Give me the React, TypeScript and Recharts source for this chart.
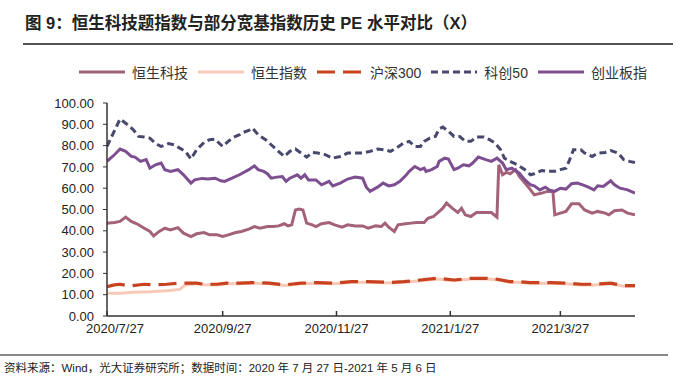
import React from "react";
import { LineChart, Line, XAxis, YAxis } from "recharts";

// ---- data ----
const startDate = "2020/7/27";
const endDate = "2021/5/6";
const tickDates = ["2020/7/27", "2020/9/27", "2020/11/27", "2021/1/27", "2021/3/27"];
const yTicks = [0, 10, 20, 30, 40, 50, 60, 70, 80, 90, 100];
const seriesNames = ["恒生科技", "恒生指数", "沪深300", "科创50", "创业板指"];

// [days after 2020/7/27, PE]
const hstech: [number, number][] = [
  [0, 43.6], [4, 43.9], [7, 44.4], [10, 46.4], [13, 44.4], [16, 43.3], [20, 41.2], [23, 39.7], [25, 37.6],
  [28, 39.7], [31, 41.2], [34, 40.4], [38, 41.5], [41, 38.9], [45, 37.3], [48, 38.6], [52, 39.2], [55, 38.1],
  [59, 38.1], [62, 37.3], [65, 38.1], [69, 39.2], [72, 39.7], [76, 40.8], [79, 42], [82, 41.2], [86, 42],
  [89, 42], [92, 42.3], [95, 43.3], [97, 42.3], [99, 42.8], [101, 49.8], [103, 50.2], [105, 49.8], [107, 43.6],
  [110, 42.8], [112, 42], [115, 43.3], [119, 43.9], [122, 42.8], [126, 41.7], [129, 42.8], [133, 42.3],
  [137, 42.3], [140, 41.2], [144, 42.3], [147, 42], [149, 43.6], [151, 41.7], [154, 39.7], [156, 42.8],
  [160, 43.3], [163, 43.6], [166, 43.9], [170, 43.9], [172, 45.9], [175, 46.7], [179, 49.8], [180, 50.6],
  [182, 53], [185, 50.6], [188, 48.6], [190, 50.6], [192, 47.5], [195, 46.7], [198, 48.6], [202, 48.6],
  [206, 48.6], [209, 46.4], [210, 71], [212, 66.3], [214, 67.4], [216, 66.8], [219, 68.7], [221, 65.5],
  [224, 62.4], [227, 59.2], [229, 56.9], [233, 57.7], [236, 58.5], [239, 58.5], [240, 47.5], [243, 48.3],
  [246, 49.1], [249, 52.7], [253, 52.7], [256, 49.8], [260, 48.3], [263, 49.1], [267, 48.3], [269, 47.5],
  [272, 49.4], [276, 49.8], [279, 48.3], [283, 47.5],
];

const hsi: [number, number][] = [
  [0, 10.7], [7, 10.7], [14, 11.1], [23, 11.4], [32, 11.9], [39, 12.5], [42, 14.6], [48, 15.1], [52, 14.7],
  [59, 14.6], [64, 15.1], [71, 15.1], [78, 15.4], [87, 15.1], [95, 14.3], [104, 15.1], [113, 15.4],
  [122, 15.1], [131, 15.8], [140, 15.8], [152, 15.5], [159, 15.8], [168, 16.6], [177, 17.4], [186, 16.6],
  [195, 17.4], [203, 17.4], [208, 17.1], [216, 15.8], [220, 15.8], [227, 15.4], [238, 15.4], [246, 15.1],
  [254, 14.6], [261, 14.6], [270, 15.1], [277, 14], [283, 14],
];

const hs300: [number, number][] = [
  [0, 13.8], [4, 14.6], [7, 14.9], [12, 14.1], [20, 14.9], [25, 14.6], [32, 14.9], [39, 15.4], [48, 15.4],
  [52, 14.9], [59, 14.9], [64, 15.4], [71, 15.4], [78, 15.7], [87, 15.4], [95, 14.6], [104, 15.4],
  [113, 15.7], [122, 15.4], [131, 16.1], [140, 16.1], [152, 15.8], [159, 16.1], [168, 16.9], [177, 17.7],
  [186, 16.9], [195, 17.7], [203, 17.7], [208, 17.4], [216, 16.1], [220, 16.1], [227, 15.7], [238, 15.7],
  [246, 15.4], [254, 14.9], [261, 14.9], [270, 15.4], [277, 14.3], [283, 14.3],
];

const star50: [number, number][] = [
  [0, 79.6], [7, 92.5], [11, 89.8], [14, 87.5], [17, 84.3], [20, 84], [23, 83.5], [26, 81], [29, 79.6],
  [33, 81], [36, 80.4], [39, 78.8], [42, 77.3], [45, 73.7], [48, 78], [52, 81.5], [55, 82.8], [58, 83],
  [60, 81.2], [62, 79.6], [65, 82], [68, 84], [71, 85.1], [72, 85.9], [76, 87.1], [78, 88.2], [81, 85.1],
  [85, 82.8], [88, 80.4], [91, 78], [95, 74.9], [98, 77.3], [101, 78.4], [104, 76.5], [107, 74.6],
  [110, 76.8], [113, 76.5], [117, 75.7], [121, 74.1], [125, 74.9], [129, 76.5], [134, 76.5], [137, 76.5],
  [141, 77.3], [145, 78.4], [149, 78], [152, 77.3], [155, 78.8], [159, 81.2], [162, 82], [165, 79.6],
  [168, 79.6], [170, 82], [173, 83.5], [176, 84.3], [178, 87.8], [180, 88.7], [183, 86.7], [186, 84.3],
  [189, 84.3], [192, 82], [195, 82], [198, 84], [202, 84], [205, 82.8], [208, 81.2], [211, 78], [213, 74.1],
  [216, 72.6], [220, 71], [224, 68.7], [227, 66.3], [229, 66.8], [233, 68.3], [236, 67.9], [240, 67.9],
  [243, 68.7], [246, 69.4], [248, 73.4], [250, 78], [254, 78], [256, 76.5], [260, 74.9], [263, 76.5],
  [267, 76.8], [270, 77.7], [274, 76.5], [277, 73.4], [280, 72.6], [283, 72.1],
];

const chinext: [number, number][] = [
  [0, 72.6], [4, 75.7], [7, 78.4], [10, 77.3], [13, 74.9], [15, 74.6], [18, 72.6], [21, 73.4], [23, 69.4],
  [26, 71], [29, 71.8], [31, 68.7], [34, 67.9], [38, 68.7], [41, 66.3], [45, 62.4], [47, 63.9], [51, 64.6],
  [54, 64.3], [58, 64.7], [61, 63.5], [63, 63.2], [67, 64.7], [71, 66.3], [72, 66.8], [76, 68.7],
  [79, 70.5], [81, 68.7], [84, 67.9], [86, 66.8], [88, 64.7], [91, 65.2], [94, 65.5], [96, 63.2],
  [98, 64.7], [102, 66.3], [104, 64.7], [106, 66.3], [108, 63.9], [112, 63.9], [115, 61.6], [119, 63.2],
  [121, 61.1], [125, 62.4], [129, 64.3], [133, 65.2], [137, 64.7], [139, 60.5], [141, 58.5], [145, 60.5],
  [148, 62.4], [151, 61.1], [154, 61.6], [157, 63.2], [160, 65.8], [162, 67.9], [165, 70.2], [168, 68.7],
  [170, 69.4], [171, 67.9], [174, 68.7], [177, 70.2], [178, 72.6], [181, 74.1], [183, 73.7], [186, 68.7],
  [188, 69.4], [191, 71], [194, 70.5], [196, 71.8], [199, 74.6], [203, 73.4], [206, 72.6], [209, 74.1],
  [212, 71.8], [214, 68.7], [217, 69.4], [221, 67.1], [224, 63.9], [227, 61.6], [229, 61.1], [232, 59.2],
  [235, 60.5], [237, 59.2], [240, 58.5], [243, 60], [246, 59.6], [249, 62.1], [252, 62.4], [255, 61.6],
  [258, 60.5], [261, 59.2], [263, 61.1], [266, 60.8], [270, 63.5], [272, 61.6], [275, 60], [279, 59.2],
  [283, 57.7],
];

// ---- helpers / styles ----
const dayOf = (s: string) =>
  Math.round((new Date(s).getTime() - new Date(startDate).getTime()) / 86400000);
const toRows = (arr: [number, number][]) => arr.map(([d, v]) => ({ d, v }));

const colors = ["#a4617a", "#f8c9b6", "#c8421f", "#48486f", "#7d4e90"];
const dashes = [undefined, undefined, "18 8", "7 4", undefined];
const seriesData = [hstech, hsi, hs300, star50, chinext];

const numFont = "'Liberation Sans', Arial, 'Noto Sans CJK SC', sans-serif";
const cjkFont = "'Liberation Sans', Arial, 'Noto Sans CJK SC', sans-serif";

const tickOffsets = tickDates.map(dayOf);

const XTick = (props: any) => {
  const { x, y, payload, index } = props;
  const i = tickOffsets.indexOf(payload.value);
  const label = i >= 0 ? tickDates[i] : "";
  return (
    <g>
      <line x1={x} x2={x} y1={y} y2={y - 5} stroke="#333" strokeWidth={1.5} />
      <text
        x={x + (index === 0 ? 8 : 0)}
        y={y + 8}
        dy="0.71em"
        textAnchor="middle"
        fontSize={13}
        fill="#222"
        fontFamily={numFont}
      >
        {label}
      </text>
    </g>
  );
};

const LegendRow = () => (
  <div
    style={{
      position: "absolute",
      top: 62,
      left: 78,
      display: "flex",
      alignItems: "center",
      fontFamily: cjkFont,
      fontSize: 14,
      color: "#333",
    }}
  >
    {seriesNames.map((n, i) => (
      <div key={n} style={{ display: "flex", alignItems: "center", marginRight: 9 }}>
        <svg width={48} height={20} style={{ marginRight: 6 }}>
          <line
            x1={1}
            x2={47}
            y1={10}
            y2={10}
            stroke={colors[i]}
            strokeWidth={3}
            strokeDasharray={dashes[i]}
          />
        </svg>
        <span>{n}</span>
      </div>
    ))}
  </div>
);

export default function App() {
  return (
    <div
      style={{
        position: "absolute",
        left: 0,
        top: 0,
        width: 700,
        height: 385,
        background: "#fff",
        overflow: "hidden",
      }}
    >
      <div
        style={{
          position: "absolute",
          left: 25,
          top: 10,
          fontFamily: cjkFont,
          fontWeight: "bold",
          fontSize: 16.5,
          color: "#222",
          whiteSpace: "nowrap",
        }}
      >
        图 9：恒生科技题指数与部分宽基指数历史 PE 水平对比（X）
      </div>
      <div
        style={{
          position: "absolute",
          left: 23,
          top: 43,
          width: 650,
          height: 2,
          background: "#555",
        }}
      />
      <LegendRow />
      <div style={{ position: "absolute", left: 0, top: 0 }}>
        <LineChart
          width={700}
          height={385}
          margin={{ top: 103, right: 65, bottom: 39, left: 0 }}
        >
          <XAxis
            type="number"
            dataKey="d"
            domain={[0, dayOf(endDate)]}
            ticks={tickOffsets}
            interval={0}
            height={30}
            tickLine={false}
            tickSize={0}
            tickMargin={0}
            axisLine={{ stroke: "#333", strokeWidth: 1.5 }}
            tick={<XTick />}
            allowDataOverflow
          />
          <YAxis
            type="number"
            domain={[0, 100]}
            ticks={yTicks}
            interval={0}
            width={107}
            tickSize={4}
            tickMargin={9}
            tickLine={{ stroke: "#333", strokeWidth: 1 }}
            axisLine={{ stroke: "#333", strokeWidth: 1.5 }}
            tickFormatter={(v: number) => v.toFixed(2)}
            tick={{ fontSize: 13, fill: "#222", fontFamily: numFont }}
          />
          {seriesData.map((s, i) => (
            <Line
              key={seriesNames[i]}
              data={toRows(s)}
              dataKey="v"
              name={seriesNames[i]}
              type="linear"
              stroke={colors[i]}
              strokeWidth={i === 2 ? 3.2 : 3}
              strokeDasharray={dashes[i]}
              dot={false}
              activeDot={false}
              isAnimationActive={false}
            />
          ))}
        </LineChart>
      </div>
      <div
        style={{
          position: "absolute",
          left: 0,
          top: 354,
          width: 668,
          height: 1.5,
          background: "#888",
        }}
      />
      <div
        style={{
          position: "absolute",
          left: 4,
          top: 359,
          fontFamily: cjkFont,
          fontSize: 11.5,
          color: "#222",
          whiteSpace: "nowrap",
        }}
      >
        资料来源：Wind，光大证券研究所；数据时间：2020 年 7 月 27 日-2021 年 5 月 6 日
      </div>
    </div>
  );
}
